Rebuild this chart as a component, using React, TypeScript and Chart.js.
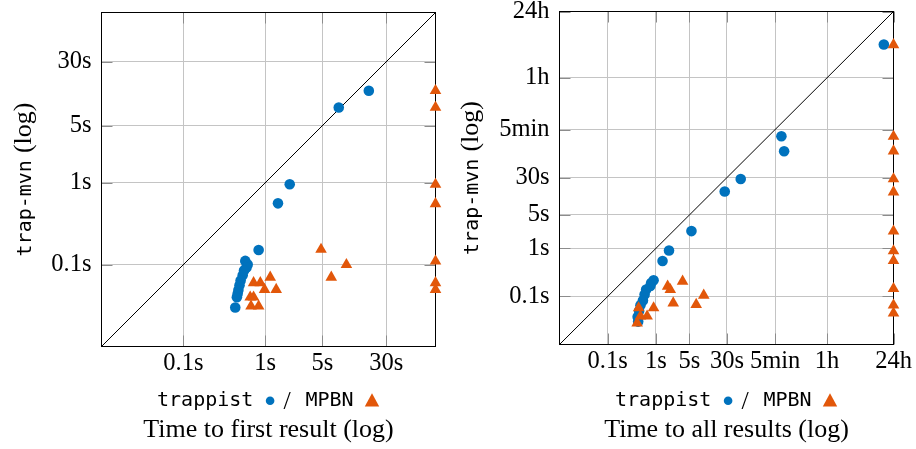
import React, { useEffect, useRef } from 'react';
import { Chart, registerables } from 'chart.js';

Chart.register(...registerables);

const BLUE = '#0072bd';
const ORANGE = '#e2570a';
const GRID = '#c4c4c4';
const TICKMARK = '#8c8c8c';
const SERIF = '"Liberation Serif", "Times New Roman", serif';
const MONO = '"DejaVu Sans Mono", "Liberation Mono", monospace';

// ---------- Panel 1: time to first result ----------
const firstMin = 0.01;
const firstMax = 120;
const firstTickValues = [0.1, 1, 5, 30];
const firstTickLabels = ['0.1s', '1s', '5s', '30s'];
const firstTrappistX = [18.4, 7.9, 1.99, 1.43, 0.83, 0.57, 0.61, 0.59, 0.55, 0.53, 0.5, 0.485, 0.47, 0.46, 0.45, 0.43];
const firstTrappistY = [13.3, 8.3, 0.96, 0.56, 0.151, 0.111, 0.1, 0.092, 0.085, 0.074, 0.064, 0.056, 0.049, 0.044, 0.04, 0.03];
const firstMpbnX = [4.8, 9.8, 6.4, 1.15, 0.72, 0.87, 0.98, 1.36, 0.655, 0.72, 0.67, 0.83, 120, 120, 120, 120, 120, 120, 120];
const firstMpbnY = [0.153, 0.1, 0.07, 0.07, 0.06, 0.06, 0.0496, 0.0496, 0.04, 0.04, 0.031, 0.031, 13.3, 8.3, 0.955, 0.553, 0.11, 0.06, 0.0496];

// ---------- Panel 2: time to all results ----------
const allMin = 0.01;
const allMax = 86400;
const allTickValues = [0.1, 1, 5, 30, 300, 3600, 86400];
const allTickLabels = ['0.1s', '1s', '5s', '30s', '5min', '1h', '24h'];
const allTrappistX = [54450, 406, 462, 58, 27, 5.5, 1.88, 1.38, 0.9, 0.8, 0.77, 0.63, 0.585, 0.54, 0.48, 0.45, 0.42, 0.43];
const allTrappistY = [17750, 217, 106, 28, 15.4, 2.3, 0.91, 0.55, 0.217, 0.19, 0.165, 0.14, 0.11, 0.083, 0.066, 0.05, 0.038, 0.03];
const allMpbnX = [3.6, 1.76, 2.0, 9.9, 2.3, 6.9, 0.9, 0.44, 0.66, 0.48, 0.41, 86400, 86400, 86400, 86400, 86400, 86400, 86400, 86400, 86400, 86400, 86400];
const allMpbnY = [0.207, 0.163, 0.139, 0.106, 0.073, 0.068, 0.058, 0.058, 0.039, 0.039, 0.028, 17500, 215, 107, 28, 15, 2.3, 0.89, 0.555, 0.146, 0.066, 0.045];

// ---------- texts ----------
const yTitleMono = 'trap-mvn';
const yTitleSerif = '(log)';
const legendTrappist = 'trappist';
const legendMpbn = 'MPBN';
const legendSlash = '/';
const xTitleFirst = 'Time to first result (log)';
const xTitleAll = 'Time to all results (log)';

const CANVAS_W = 458;
const CANVAS_H = 449;

type Panel = {
  min: number;
  max: number;
  ticks: number[];
  labels: string[];
  tx: number[];
  ty: number[];
  mx: number[];
  my: number[];
  xTitle: string;
  top: number;
  bottom: number;
  yTitleX: number;
};

const panels: Panel[] = [
  {
    min: firstMin, max: firstMax, ticks: firstTickValues, labels: firstTickLabels,
    tx: firstTrappistX, ty: firstTrappistY, mx: firstMpbnX, my: firstMpbnY,
    xTitle: xTitleFirst, top: 12.5, bottom: 346.5, yTitleX: 31,
  },
  {
    min: allMin, max: allMax, ticks: allTickValues, labels: allTickLabels,
    tx: allTrappistX, ty: allTrappistY, mx: allMpbnX, my: allMpbnY,
    xTitle: xTitleAll, top: 11.5, bottom: 344.5, yTitleX: 19.7,
  },
];

function decor(p: Panel) {
  return {
    id: 'decor',
    beforeDatasetsDraw(chart: any) {
      const { ctx, chartArea: a, scales } = chart;
      ctx.save();
      ctx.strokeStyle = TICKMARK;
      ctx.lineWidth = 1;
      ctx.beginPath();
      for (const v of p.ticks) {
        const x = Math.round(scales.x.getPixelForValue(v)) + 0.5;
        ctx.moveTo(x, a.bottom); ctx.lineTo(x, a.bottom - 11);
        ctx.moveTo(x, a.top); ctx.lineTo(x, a.top + 11);
        const y = Math.round(scales.y.getPixelForValue(v)) + 0.5;
        ctx.moveTo(a.left, y); ctx.lineTo(a.left + 11, y);
        ctx.moveTo(a.right, y); ctx.lineTo(a.right - 11, y);
      }
      ctx.stroke();
      ctx.strokeStyle = '#000';
      ctx.lineWidth = 1;
      ctx.strokeRect(a.left, a.top, a.right - a.left, a.bottom - a.top);
      ctx.restore();
    },
    afterDraw(chart: any) {
      const { ctx, chartArea: a } = chart;
      const cx = (a.left + a.right) / 2;
      const cy = (a.top + a.bottom) / 2;
      ctx.save();
      ctx.fillStyle = '#000';
      ctx.textBaseline = 'alphabetic';

      // y-axis title (rotated)
      ctx.save();
      ctx.translate(p.yTitleX, cy);
      ctx.rotate(-Math.PI / 2);
      ctx.font = `20px ${MONO}`;
      const w1 = ctx.measureText(yTitleMono).width;
      ctx.font = `26px ${SERIF}`;
      const w2 = ctx.measureText(yTitleSerif).width;
      const gap = 7;
      const total = w1 + gap + w2;
      ctx.textAlign = 'left';
      ctx.font = `20px ${MONO}`;
      ctx.fillText(yTitleMono, -total / 2, 0);
      ctx.font = `26px ${SERIF}`;
      ctx.fillText(yTitleSerif, -total / 2 + w1 + gap, 0);
      ctx.restore();

      // legend line
      const base = 406;
      ctx.textAlign = 'center';
      ctx.font = `20px ${MONO}`;
      ctx.fillText(legendTrappist, cx - 63.3, base);
      ctx.fillText(legendMpbn, cx + 61, base);
      ctx.font = `26px ${SERIF}`;
      ctx.fillText(legendSlash, cx + 18.5, base + 3);
      ctx.fillStyle = BLUE;
      ctx.beginPath();
      ctx.arc(cx + 1.6, 400.7, 4.3, 0, Math.PI * 2);
      ctx.fill();
      ctx.fillStyle = ORANGE;
      const tx = cx + 103.5;
      ctx.beginPath();
      ctx.moveTo(tx, 393.3);
      ctx.lineTo(tx + 7.2, 406.5);
      ctx.lineTo(tx - 7.2, 406.5);
      ctx.closePath();
      ctx.fill();

      // x-axis title
      ctx.fillStyle = '#000';
      ctx.font = `26px ${SERIF}`;
      ctx.fillText(p.xTitle, cx, 436.5);
      ctx.restore();
    },
  };
}

function buildConfig(p: Panel): any {
  const pts = (xs: number[], ys: number[]) => xs.map((x, i) => ({ x, y: ys[i] }));
  const fixTicks = (scale: any) => {
    scale.ticks = p.ticks.map((v) => ({ value: v }));
  };
  const tickFont = { family: SERIF, size: 24.5 };
  const common = {
    type: 'logarithmic',
    min: p.min,
    max: p.max,
    afterBuildTicks: fixTicks,
    grid: { color: GRID, lineWidth: 1, drawTicks: false },
    border: { display: false },
  };
  return {
    type: 'scatter',
    data: {
      datasets: [
        {
          label: 'diagonal',
          type: 'line',
          data: [{ x: p.min, y: p.min }, { x: p.max, y: p.max }],
          borderColor: '#000',
          borderWidth: 1,
          pointRadius: 0,
          fill: false,
          order: 3,
        },
        {
          label: legendTrappist,
          data: pts(p.tx, p.ty),
          backgroundColor: BLUE,
          borderWidth: 0,
          pointStyle: 'circle',
          pointRadius: 5.3,
          order: 2,
          clip: false,
        },
        {
          label: legendMpbn,
          data: pts(p.mx, p.my),
          backgroundColor: ORANGE,
          borderWidth: 0,
          pointStyle: 'triangle',
          pointRadius: 6.7,
          order: 1,
          clip: false,
        },
      ],
    },
    options: {
      animation: false,
      responsive: false,
      events: [],
      layout: { padding: { left: 0, right: CANVAS_W - 435.5, top: p.top, bottom: 0 } },
      plugins: { legend: { display: false }, tooltip: { enabled: false }, title: { display: false } },
      scales: {
        x: {
          ...common,
          position: 'bottom',
          ticks: {
            autoSkip: false, maxRotation: 0, minRotation: 0, color: '#000', font: tickFont, padding: 2,
            callback: (_v: any, i: number) => p.labels[i],
          },
          afterFit: (s: any) => {
            s.height = CANVAS_H - p.bottom;
            s.paddingLeft = 0; s.paddingRight = 0; s.paddingTop = 0; s.paddingBottom = 0;
          },
        },
        y: {
          ...common,
          position: 'left',
          ticks: {
            autoSkip: false, color: '#000', font: tickFont, padding: 10,
            callback: (_v: any, i: number) => p.labels[i],
          },
          afterFit: (s: any) => {
            s.width = 101.5;
            s.paddingLeft = 0; s.paddingRight = 0; s.paddingTop = 0; s.paddingBottom = 0;
          },
        },
      },
    },
    plugins: [decor(p)],
  };
}

function ScatterPanel({ panel }: { panel: Panel }) {
  const ref = useRef<HTMLCanvasElement | null>(null);
  useEffect(() => {
    if (!ref.current) return;
    const chart = new Chart(ref.current, buildConfig(panel));
    return () => chart.destroy();
  }, [panel]);
  return (
    <canvas
      ref={ref}
      width={CANVAS_W}
      height={CANVAS_H}
      style={{ display: 'block', width: CANVAS_W, height: CANVAS_H }}
    />
  );
}

export default function App() {
  return (
    <div style={{ position: 'absolute', left: 0, top: 0, width: 916, height: 449, background: '#fff' }}>
      <div style={{ position: 'absolute', left: 0, top: 0 }}>
        <ScatterPanel panel={panels[0]} />
      </div>
      <div style={{ position: 'absolute', left: CANVAS_W, top: 0 }}>
        <ScatterPanel panel={panels[1]} />
      </div>
    </div>
  );
}
